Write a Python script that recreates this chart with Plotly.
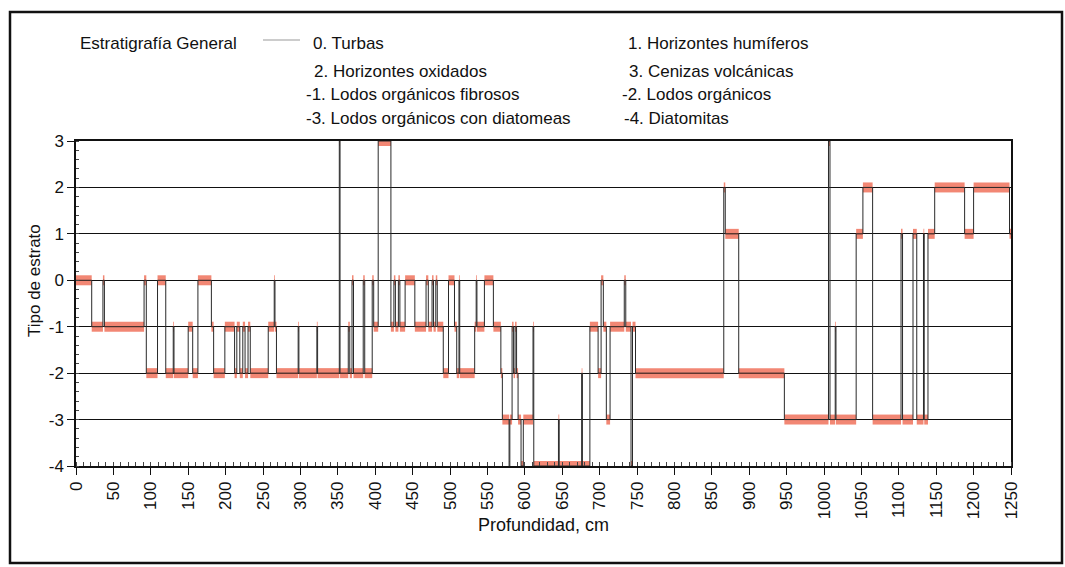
import plotly.graph_objects as go

# Depth (cm) at which each stratum starts, and its stratum type
depth_start = [0, 21, 36, 38, 91, 94, 109, 120, 130, 131, 150, 156, 163, 181, 184,
               199, 212, 215, 219, 223, 226, 230, 233, 257, 265, 266, 268, 297, 298,
               322, 323, 352, 353, 364, 366, 369, 371, 384, 386, 396, 398, 404, 421,
               425, 427, 431, 433, 440, 453, 468, 471, 476, 478, 481, 483, 491, 498,
               506, 509, 512, 513, 533, 535, 536, 546, 558, 568, 570, 579, 580, 583,
               585, 587, 589, 591, 595, 598, 611, 612, 645, 646, 676, 677, 687, 698,
               702, 705, 709, 714, 733, 735, 742, 744, 748, 866, 868, 886, 947, 1006,
               1008, 1015, 1016, 1043, 1052, 1065, 1103, 1105, 1119, 1124, 1133, 1134,
               1139, 1148, 1188, 1200, 1248]
stratum = [0, -1, 0, -1, 0, -2, 0, -2, -1, -2, -1, -2, 0, -1, -2,
           -1, -2, -1, -2, -1, -2, -1, -2, -1, 0, -1, -2, -1, -2,
           -1, -2, 3, -2, -1, -2, 0, -2, 0, -2, 0, -1, 3, -1,
           0, -1, 0, -1, 0, -1, 0, -1, 0, -1, 0, -1, -2, 0,
           -1, -2, 0, -2, -1, 0, -1, 0, -1, -2, -3, -4, -3, -1,
           -2, -1, -2, -3, -4, -3, -1, -4, -3, -4, -2, -4, -1, -2,
           0, -1, -3, -1, 0, -1, -4, -1, -2, 2, 1, -2, -3, 3,
           -3, -1, -3, 1, 2, -3, 1, -3, 1, -3, 1, -3,
           1, 2, 1, 2, 1]
depth_end = 1250

x_ticks = list(range(0, 1251, 50))
y_ticks = [-4, -3, -2, -1, 0, 1, 2, 3]

legend_left = ["0. Turbas", "2. Horizontes oxidados", "-1. Lodos orgánicos fibrosos",
               "-3. Lodos orgánicos con diatomeas"]
legend_right = ["1. Horizontes humíferos", "3. Cenizas volcánicas", "-2. Lodos orgánicos",
                "-4. Diatomitas"]

W, H = 1065, 567
L, R, T, B = 76, 1011, 141, 466


def px(x):
    return (x - L) / (R - L)


def py(y):
    return (B - y) / (B - T)


# red sample bands
bx, by = [], []
ends = depth_start[1:] + [depth_end]
for s, e, v in zip(depth_start, ends, stratum):
    bx += [s, e, None]
    by += [v, v, None]

fig = go.Figure()
fig.add_trace(go.Scatter(x=bx, y=by, mode="lines",
                         line=dict(color="rgba(238,95,70,0.75)", width=10),
                         hoverinfo="skip", showlegend=False))
fig.add_trace(go.Scatter(x=depth_start + [depth_end], y=stratum + [stratum[-1]],
                         mode="lines", line=dict(color="#2a2a2a", width=1, shape="hv"),
                         showlegend=False))

font = "Liberation Sans, Arial, sans-serif"
ann = [dict(text="Estratigrafía General", x=px(78), y=py(44))]
for t, yy, xx in zip(legend_left, [44, 71, 95, 118], [311, 312, 304, 304]):
    ann.append(dict(text=t, x=px(xx), y=py(yy)))
for t, yy, xx in zip(legend_right, [44, 71, 95, 118], [626, 627, 620, 622]):
    ann.append(dict(text=t, x=px(xx), y=py(yy)))
annotations = [dict(a, xref="paper", yref="paper", xanchor="left", yanchor="middle",
                    showarrow=False, font=dict(family=font, size=17, color="#111"))
               for a in ann]
annotations.append(dict(text="Tipo de estrato", xref="paper", yref="paper",
                        x=px(34), y=py(281), xanchor="center", yanchor="middle",
                        textangle=-90, showarrow=False,
                        font=dict(family=font, size=17, color="#111")))

shapes = [
    dict(type="line", xref="paper", yref="paper", x0=px(263), x1=px(300), y0=py(40), y1=py(40),
         line=dict(color="#999", width=1)),
    dict(type="rect", xref="paper", yref="paper", x0=px(10), x1=px(1062), y0=py(563), y1=py(12),
         line=dict(color="#111", width=2.5)),
]

fig.update_layout(
    width=W, height=H,
    margin=dict(l=L, r=W - R, t=T, b=H - B),
    paper_bgcolor="white", plot_bgcolor="white",
    font=dict(family=font, color="#111"),
    annotations=annotations, shapes=shapes,
    xaxis=dict(range=[0, 1250], tickvals=x_ticks, ticktext=[str(v) for v in x_ticks],
               tickangle=-90, ticks="outside", ticklen=7, tickcolor="#111",
               showline=True, linecolor="#111", linewidth=1.5, mirror=True,
               showgrid=False, zeroline=False, tickfont=dict(size=17),
               minor=dict(dtick=10, ticks="inside", ticklen=4, tickcolor="#444"),
               title=dict(text="Profundidad, cm", font=dict(size=18), standoff=0)),
    yaxis=dict(range=[-4, 3], tickvals=y_ticks, ticktext=[str(v) for v in y_ticks],
               ticks="outside", ticklen=7, tickcolor="#111",
               showline=True, linecolor="#111", linewidth=1.5, mirror=True,
               showgrid=True, gridcolor="#111", gridwidth=1.3, zeroline=False,
               tickfont=dict(size=17),
               minor=dict(dtick=0.2, ticks="inside", ticklen=3, tickcolor="#444", showgrid=False)),
)

fig.write_html("out.html")
